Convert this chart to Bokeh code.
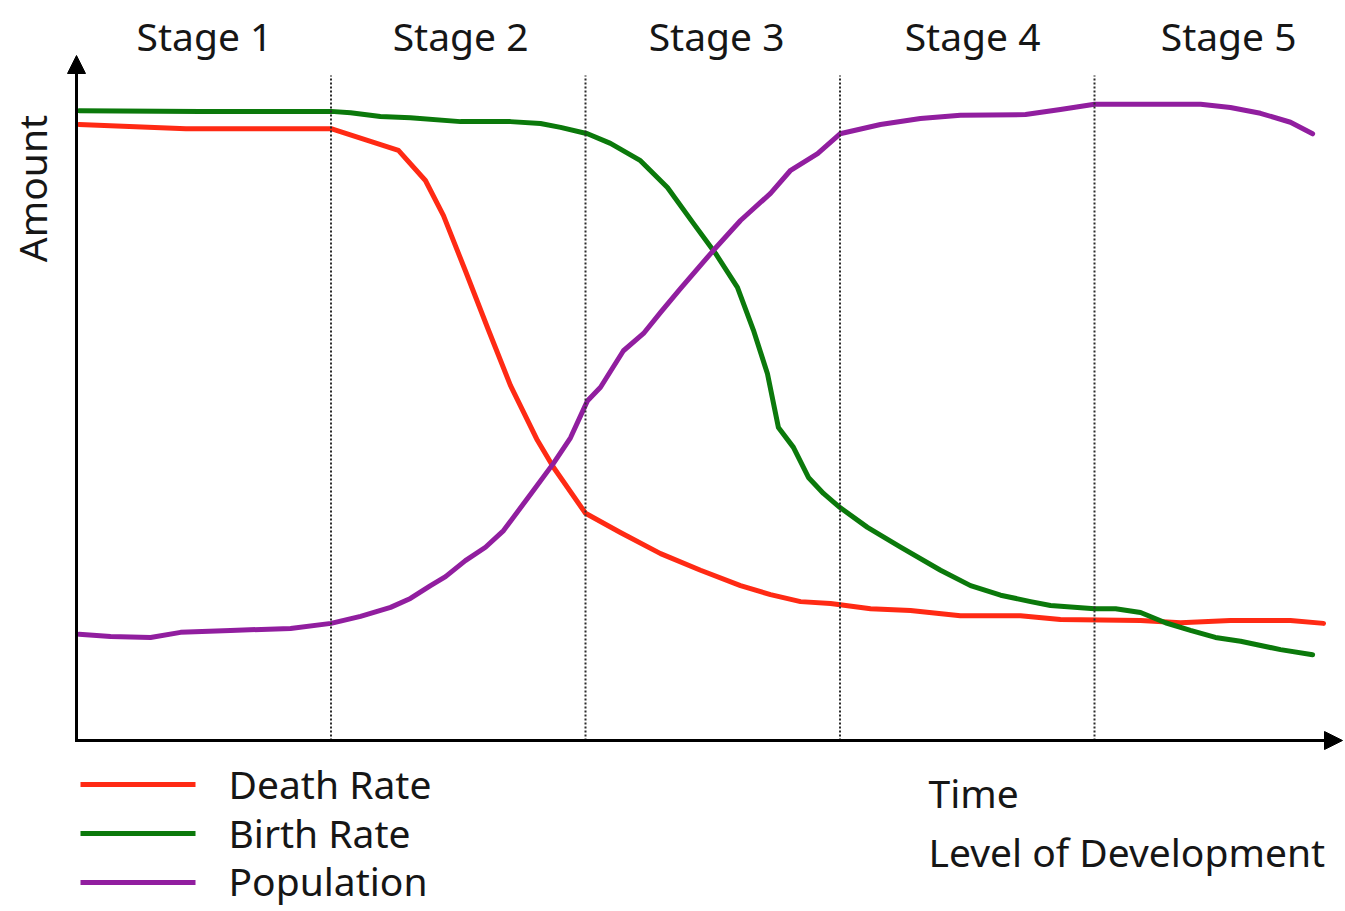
import math
from bokeh.plotting import figure
from bokeh.models import Range1d, Arrow, NormalHead
from bokeh.core.properties import value
from bokeh.embed import file_html
from bokeh.resources import INLINE

# ---------------- data ----------------
stages = ["Stage 1", "Stage 2", "Stage 3", "Stage 4", "Stage 5"]
stage_bounds = [1, 2, 3, 4]

death_x = [0.01, 0.43, 1.00, 1.265, 1.371, 1.442, 1.528, 1.619, 1.705, 1.811, 1.874,
           2.00, 2.137, 2.295, 2.452, 2.609, 2.727, 2.845, 2.963, 3.12, 3.277, 3.473,
           3.709, 3.866, 4.181, 4.338, 4.534, 4.770, 4.900]
death_y = [96.25, 95.6, 95.6, 92.2, 87.5, 82.0, 73.4, 64.1, 55.5, 46.9, 42.7,
           35.5, 32.5, 29.2, 26.6, 24.2, 22.8, 21.7, 21.4, 20.6, 20.3, 19.5,
           19.5, 18.9, 18.75, 18.4, 18.75, 18.75, 18.3]

birth_x = [0.01, 0.487, 1.00, 1.077, 1.194, 1.312, 1.509, 1.705, 1.823, 1.902, 2.008,
           2.098, 2.216, 2.322, 2.424, 2.511, 2.597, 2.660, 2.715, 2.758, 2.817, 2.876,
           2.935, 3.00, 3.108, 3.238, 3.395, 3.513, 3.631, 3.749, 3.827, 4.00, 4.083,
           4.181, 4.279, 4.377, 4.475, 4.574, 4.731, 4.857]
birth_y = [98.4, 98.3, 98.3, 98.1, 97.5, 97.3, 96.7, 96.7, 96.4, 95.8, 94.8,
           93.3, 90.6, 86.4, 80.8, 76.1, 70.8, 64.1, 57.3, 48.9, 45.8, 41.1,
           38.6, 36.4, 33.3, 30.2, 26.6, 24.2, 22.7, 21.7, 21.1, 20.6, 20.6,
           20.0, 18.4, 17.2, 16.1, 15.5, 14.2, 13.4]

pop_x = [0.01, 0.134, 0.291, 0.409, 0.605, 0.841, 1.00, 1.116, 1.234, 1.312, 1.391,
         1.450, 1.528, 1.607, 1.678, 1.796, 1.874, 1.941, 2.008, 2.059, 2.149, 2.228,
         2.295, 2.373, 2.503, 2.609, 2.727, 2.806, 2.912, 3.00, 3.159, 3.316, 3.473,
         3.729, 3.866, 4.00, 4.220, 4.417, 4.534, 4.652, 4.770, 4.857]
pop_y = [16.6, 16.25, 16.1, 16.9, 17.2, 17.5, 18.3, 19.4, 20.8, 22.2, 24.2,
         25.6, 28.1, 30.2, 32.8, 39.1, 43.3, 47.3, 53.1, 55.2, 60.9, 63.6,
         66.9, 70.6, 76.6, 81.25, 85.5, 89.1, 91.7, 94.8, 96.25, 97.2, 97.7,
         97.8, 98.6, 99.4, 99.4, 99.4, 98.9, 98.0, 96.6, 94.8]

series_names = ["Death Rate", "Birth Rate", "Population"]
series_colors = ["#ff2a14", "#0b790b", "#911e9f"]
y_title = "Amount"
x_titles = ["Time", "Level of Development"]

# ---------------- layout ----------------
W, H = 1345, 911
SX, SY = 254.5, 6.4          # pixels per data unit
OX, OY = 76, 740             # origin in page pixels
TB = 17                      # baseline correction (px)


def X(px):
    return (px - OX) / SX


def Y(py):
    return (OY - py) / SY


FONT = value("Noto Sans")
FS = "39px"
TXT = "#161616"

p = figure(width=W, height=H, output_backend="svg", toolbar_location=None,
           x_range=Range1d(X(0), X(W)), y_range=Range1d(Y(H), Y(0)),
           x_axis_location=None, y_axis_location=None, min_border=0)
p.grid.visible = False
p.outline_line_color = None
p.background_fill_color = "white"
p.border_fill_color = "white"

# curves
for xs, ys, c in zip([death_x, birth_x, pop_x], [death_y, birth_y, pop_y], series_colors):
    p.line(xs, ys, line_color=c, line_width=5, line_join="round", line_cap="round")

# stage boundaries (dotted)
p.segment(x0=stage_bounds, y0=[0] * 4, x1=stage_bounds, y1=[Y(75)] * 4,
          line_color="#2a2a2a", line_width=2, line_dash="2 2")

# axes with arrowheads
p.add_layout(Arrow(end=NormalHead(size=18, fill_color="black", line_color="black"),
                   x_start=0, y_start=Y(741.5), x_end=0, y_end=Y(55),
                   line_color="black", line_width=3))
p.add_layout(Arrow(end=NormalHead(size=18, fill_color="black", line_color="black"),
                   x_start=X(74.5), y_start=0, x_end=X(1342), y_end=0,
                   line_color="black", line_width=3))

# stage labels
label_x = [(i + 0.5) * 1.006 for i in range(len(stages))]
p.text(x=label_x, y=[Y(52 - TB)] * len(stages), text=stages, text_font=FONT,
       text_font_size=FS, text_align="center", text_baseline="alphabetic", text_color=TXT)

# y title
p.text(x=[X(48 - TB)], y=[Y(188)], text=[y_title], angle=math.pi / 2, text_font=FONT,
       text_font_size=FS, text_align="center", text_baseline="alphabetic", text_color=TXT)

# x titles
p.text(x=[X(928)] * 2, y=[Y(809 - TB), Y(868 - TB)], text=x_titles, text_font=FONT,
       text_font_size=FS, text_align="left", text_baseline="alphabetic", text_color=TXT)

# legend
leg_line_y = [Y(784), Y(833), Y(882)]
leg_text_y = [Y(800 - TB), Y(849 - TB), Y(897 - TB)]
p.segment(x0=[X(80)] * 3, y0=leg_line_y, x1=[X(195)] * 3, y1=leg_line_y,
          line_color=series_colors, line_width=5)
p.text(x=[X(228)] * 3, y=leg_text_y, text=series_names, text_font=FONT,
       text_font_size=FS, text_align="left", text_baseline="alphabetic", text_color=TXT)

open("out.html", "w").write(file_html(p, INLINE))
